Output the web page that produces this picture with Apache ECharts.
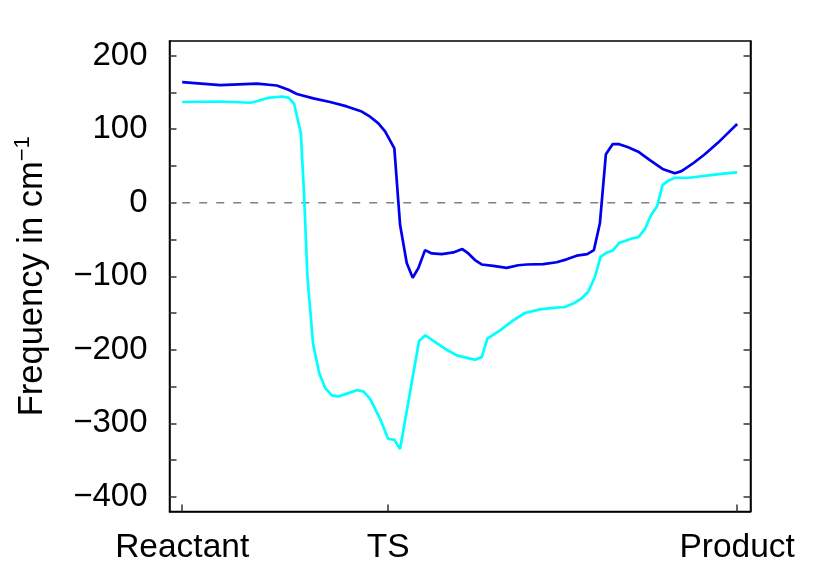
<!DOCTYPE html>
<html>
<head>
<meta charset="utf-8">
<script src="https://cdn.jsdelivr.net/npm/echarts@6/dist/echarts.min.js"></script>
<style>
html,body{margin:0;padding:0;background:#fff;}
#chart{width:830px;height:581px;}
</style>
</head>
<body>
<div id="chart"></div>
<script>
// Reaction coordinate positions (0 = Reactant, 100 = Product)
const xTickValues = [0, 37.1, 100];
const xTickLabels = ['Reactant', 'TS', 'Product'];
const yTickValues = [-400, -350, -300, -250, -200, -150, -100, -50, 0, 50, 100, 150, 200];
const yLabelValues = [-400, -300, -200, -100, 0, 100, 200];

// Blue curve
const blueX = [0, 6.84, 13.45, 17.05, 19.14, 20.66, 23.64, 26.65, 29.66, 32.36, 33.86, 35.35, 36.56, 38.23, 39.26, 40.46, 41.54, 42.55, 43.76, 44.97, 46.77, 48.86, 50.48, 51.56, 52.76, 53.97, 56.06, 58.47, 60.56, 62.07, 65.06, 67.48, 69.28, 71.08, 72.99, 74.19, 75.27, 76.35, 77.56, 78.75, 80.37, 82.17, 84.28, 86.56, 88.78, 89.99, 92.08, 94.18, 96.58, 98.09, 100];
const blueY = [164, 160, 162, 159.5, 153.6, 148, 142, 137, 131, 124, 117, 108, 97, 74, -30, -82, -102, -89, -64.5, -69, -70, -67.6, -63, -69, -78, -84, -86, -88.6, -85, -84, -83.6, -81, -77, -72, -70, -64.5, -28, 66, 79.6, 79.6, 75.5, 69.5, 58, 46, 40, 43, 53.7, 66, 81.8, 93, 107];

// Cyan curve
const cyanX = [0, 6.84, 12.25, 13.45, 15.54, 17.95, 19.14, 20.17, 21.38, 21.97, 22.56, 23.59, 24.72, 25.75, 26.96, 28.15, 29.95, 31.46, 32.65, 33.86, 35.66, 37.10, 38.23, 39.26, 42.68, 43.81, 45.87, 47.67, 49.47, 51.86, 52.76, 53.97, 54.98, 57.27, 59.66, 61.77, 64.47, 66.86, 68.97, 70.77, 71.98, 73.17, 74.37, 75.39, 76.48, 77.67, 78.75, 79.78, 80.98, 82.17, 83.38, 84.40, 85.59, 86.56, 87.57, 88.78, 91.48, 94.49, 97.48, 100];
const cyanY = [137, 137.7, 136, 138, 142.7, 144.5, 143, 134.6, 94.6, 10, -100, -192.6, -232.6, -251.7, -262, -263.5, -259, -255, -256.7, -266.7, -294, -321, -322.6, -335, -188, -180.4, -191, -200, -207.6, -212, -213.5, -210, -185, -173.6, -160, -150, -145, -143, -141.8, -136, -130, -121, -101, -73.6, -68, -64.5, -54.5, -52, -48.6, -47, -36, -18, -4.5, 24, 30, 34, 34, 37, 39.5, 41.4];

// Zero reference line
const zeroX = [0, 100];
const zeroY = [0, 0];

const zip = (xs, ys) => xs.map((x, i) => [x, ys[i]]);
const minus = v => String(v).replace('-', '\u2212');
const FONT = 'Liberation Sans, Arial, Helvetica, sans-serif';

const chart = echarts.init(document.getElementById('chart'), null, {renderer: 'canvas'});
chart.setOption({
  animation: false,
  backgroundColor: '#fff',
  grid: {
    left: 169.5, right: 79.5, top: 41, bottom: 69.5,
    show: true, borderColor: '#000', borderWidth: 1.5, backgroundColor: 'transparent'
  },
  xAxis: {
    type: 'value', min: -2.29, max: 102.41,
    splitLine: {show: false},
    axisLine: {show: true, onZero: false, lineStyle: {color: '#000', width: 1.5}},
    axisTick: {show: true, inside: true, length: 7, customValues: xTickValues, lineStyle: {color: '#333', width: 1.5}},
    axisLabel: {
      customValues: xTickValues, margin: 19, fontSize: 33.5, color: '#000', fontFamily: FONT,
      formatter: v => {
        let best = 0;
        xTickValues.forEach((t, i) => { if (Math.abs(t - v) < Math.abs(xTickValues[best] - v)) best = i; });
        return xTickLabels[best];
      }
    }
  },
  yAxis: [{
    type: 'value', min: -420, max: 220, position: 'left',
    splitLine: {show: false},
    axisLine: {show: true, onZero: false, lineStyle: {color: '#000', width: 1.5}},
    axisTick: {show: true, inside: true, length: 7, customValues: yTickValues, lineStyle: {color: '#333', width: 1.5}},
    axisLabel: {customValues: yLabelValues, margin: 22, fontSize: 33, color: '#000', fontFamily: FONT, formatter: minus},
    name: 'Frequency in cm{sup|\u22121}',
    nameLocation: 'middle', nameRotate: 90, nameGap: 116,
    nameTextStyle: {
      fontSize: 34.5, color: '#000', fontFamily: FONT, lineHeight: 42,
      rich: {sup: {fontSize: 22, fontFamily: FONT, color: '#000', verticalAlign: 'top', lineHeight: 42}}
    }
  }, {
    type: 'value', min: -420, max: 220, position: 'right',
    splitLine: {show: false},
    axisLine: {show: true, onZero: false, lineStyle: {color: '#000', width: 1.5}},
    axisTick: {show: true, inside: true, length: 7, customValues: yTickValues, lineStyle: {color: '#333', width: 1.5}},
    axisLabel: {show: false}
  }],
  series: [{
    type: 'line', data: zip(zeroX, zeroY), showSymbol: false, silent: true,
    lineStyle: {color: '#808080', width: 1.5, type: [8, 9]}
  }, {
    type: 'line', data: zip(cyanX, cyanY), showSymbol: false,
    lineStyle: {color: '#00ffff', width: 2.7}
  }, {
    type: 'line', data: zip(blueX, blueY), showSymbol: false,
    lineStyle: {color: '#0000ee', width: 2.7}
  }]
});
</script>
</body>
</html>
